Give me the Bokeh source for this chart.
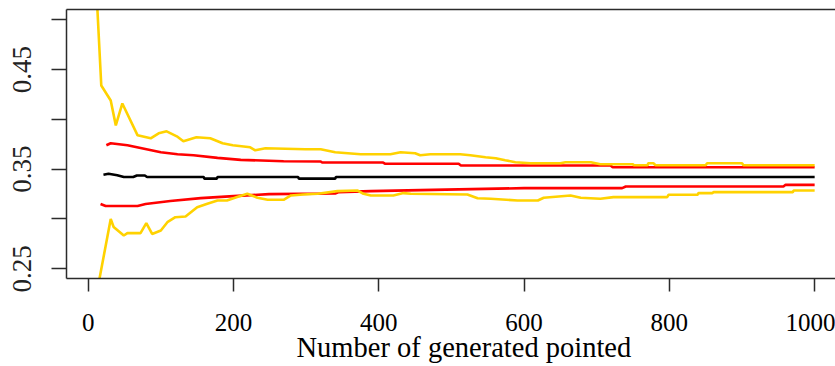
from bokeh.plotting import figure
from bokeh.models import Range1d, LinearAxis, FixedTicker, Title
from bokeh.embed import file_html
from bokeh.resources import INLINE

# ---- data ----
x_ticks = [0, 200, 400, 600, 800, 1000]
y_ticks = [0.25, 0.30, 0.35, 0.40, 0.45, 0.50]
y_tick_labels = ["0.25", "", "0.35", "", "0.45", ""]
x_title = "Number of generated pointed"

x_mean = [21, 28, 40, 49, 62, 67, 78, 81, 159, 160, 177, 178, 289, 290, 340, 341, 1000]
mean = [0.3444, 0.3454, 0.3440, 0.3422, 0.3422, 0.3437, 0.3437, 0.3422, 0.3422,
        0.3405, 0.3405, 0.3422, 0.3422, 0.3405, 0.3405, 0.3422, 0.3422]

x_red_up = [25, 31, 54, 77, 100, 123, 145, 178, 210, 269, 320, 322, 406, 409, 510, 513, 719, 722, 1000]
red_up = [0.374, 0.376, 0.374, 0.3705, 0.367, 0.365, 0.364, 0.3614, 0.3594, 0.358,
          0.3577, 0.3567, 0.3567, 0.3554, 0.3554, 0.3537, 0.3537, 0.352, 0.352]

x_red_lo = [17, 24, 68, 79, 113, 155, 200, 249, 340, 345, 389, 457, 600, 735, 740, 957, 960, 1000]
red_lo = [0.315, 0.313, 0.313, 0.315, 0.318, 0.321, 0.323, 0.325, 0.3256, 0.327,
          0.328, 0.329, 0.331, 0.331, 0.3326, 0.3326, 0.3343, 0.3343]

x_gold_up = [12, 18, 31, 38, 47, 68, 86, 97, 108, 122, 131, 149, 168, 185, 199, 223, 230,
             244, 299, 320, 340, 375, 416, 430, 450, 457, 471, 512, 526, 547, 561, 574,
             588, 609, 650, 657, 692, 705, 750, 751, 770, 771, 778, 781, 850, 852, 900, 902, 1000]
gold_up = [0.52, 0.434, 0.419, 0.394, 0.416, 0.384, 0.381, 0.386, 0.388, 0.383, 0.378,
           0.382, 0.381, 0.376, 0.374, 0.372, 0.369, 0.371, 0.370, 0.370, 0.367, 0.365,
           0.365, 0.367, 0.366, 0.364, 0.365, 0.365, 0.364, 0.362, 0.361, 0.359, 0.357,
           0.356, 0.356, 0.357, 0.357, 0.355, 0.355, 0.354, 0.354, 0.356, 0.356, 0.354,
           0.354, 0.356, 0.356, 0.354, 0.354]

x_gold_lo = [15, 31, 35, 49, 54, 72, 80, 88, 100, 109, 120, 134, 150, 164, 178, 191, 205,
             219, 233, 247, 269, 279, 296, 316, 343, 371, 379, 389, 420, 434, 444, 522,
             536, 554, 591, 619, 627, 664, 678, 705, 723, 797, 799, 839, 840, 859, 861,
             970, 971, 1000]
gold_lo = [0.238, 0.300, 0.292, 0.2834, 0.2858, 0.2858, 0.2958, 0.285, 0.2885, 0.2968,
           0.3018, 0.3025, 0.3119, 0.3153, 0.3186, 0.3186, 0.322, 0.3253, 0.3213, 0.3193,
           0.3193, 0.3236, 0.3246, 0.3253, 0.328, 0.3286, 0.3253, 0.3236, 0.3236, 0.326,
           0.3253, 0.3246, 0.3209, 0.3203, 0.3186, 0.3186, 0.3213, 0.3236, 0.3213, 0.3203,
           0.322, 0.322, 0.3243, 0.3243, 0.326, 0.326, 0.327, 0.327, 0.3286, 0.3286]

# ---- figure ----
FRAME = "#2b2b2b"
p = figure(width=835, height=366, output_backend="svg", toolbar_location=None,
           x_range=Range1d(-29.87, 1028.7), y_range=Range1d(0.24026, 0.51034),
           min_border_left=66, min_border_right=0, min_border_top=9, min_border_bottom=88)
p.outline_line_color = None
p.grid.visible = False
p.background_fill_color = "white"
p.border_fill_color = "white"

xa = p.xaxis[0]
xa.ticker = FixedTicker(ticks=x_ticks)
xa.minor_tick_line_color = None
xa.major_tick_out = 13
xa.major_tick_in = 0
xa.major_tick_line_color = FRAME
xa.major_tick_line_width = 1.5
xa.axis_line_color = FRAME
xa.axis_line_width = 1.5
xa.major_label_standoff = 22
xa.major_label_text_font = "Liberation Serif"
xa.major_label_text_font_size = "25px"
xa.major_label_text_color = "black"

ya = p.yaxis[0]
ya.ticker = FixedTicker(ticks=y_ticks)
ya.major_label_overrides = {t: s for t, s in zip(y_ticks, y_tick_labels)}
ya.minor_tick_line_color = None
ya.major_tick_out = 15
ya.major_tick_in = 0
ya.major_tick_line_color = FRAME
ya.major_tick_line_width = 1.5
ya.axis_line_color = FRAME
ya.axis_line_width = 1.5
ya.major_label_orientation = "vertical"
ya.major_label_standoff = 20
ya.major_label_text_font = "Liberation Sans Narrow"
ya.major_label_text_font_size = "27px"
ya.major_label_text_color = "#222222"

top = LinearAxis(ticker=FixedTicker(ticks=[]), major_tick_out=0, major_tick_in=0,
                 minor_tick_out=0, minor_tick_in=0, major_label_standoff=0,
                 axis_line_color=FRAME, axis_line_width=1.5)
p.add_layout(top, "above")

# ---- series ----
p.line(x_mean, mean, line_color="black", line_width=2.6)
p.line(x_red_up, red_up, line_color="#ff0000", line_width=2.6)
p.line(x_red_lo, red_lo, line_color="#ff0000", line_width=2.6)
p.line(x_gold_up, gold_up, line_color="#ffd200", line_width=2.6)
p.line(x_gold_lo, gold_lo, line_color="#ffd200", line_width=2.6)

# x-axis title as a below-panel title, shifted to match the reference position
xt = Title(text=x_title, align="left", offset=230, vertical_align="bottom", standoff=-7,
           text_font="Liberation Serif", text_font_size="28.5px", text_font_style="normal",
           text_color="black")
p.add_layout(xt, "below")

open("out.html", "w").write(file_html(p, INLINE))
